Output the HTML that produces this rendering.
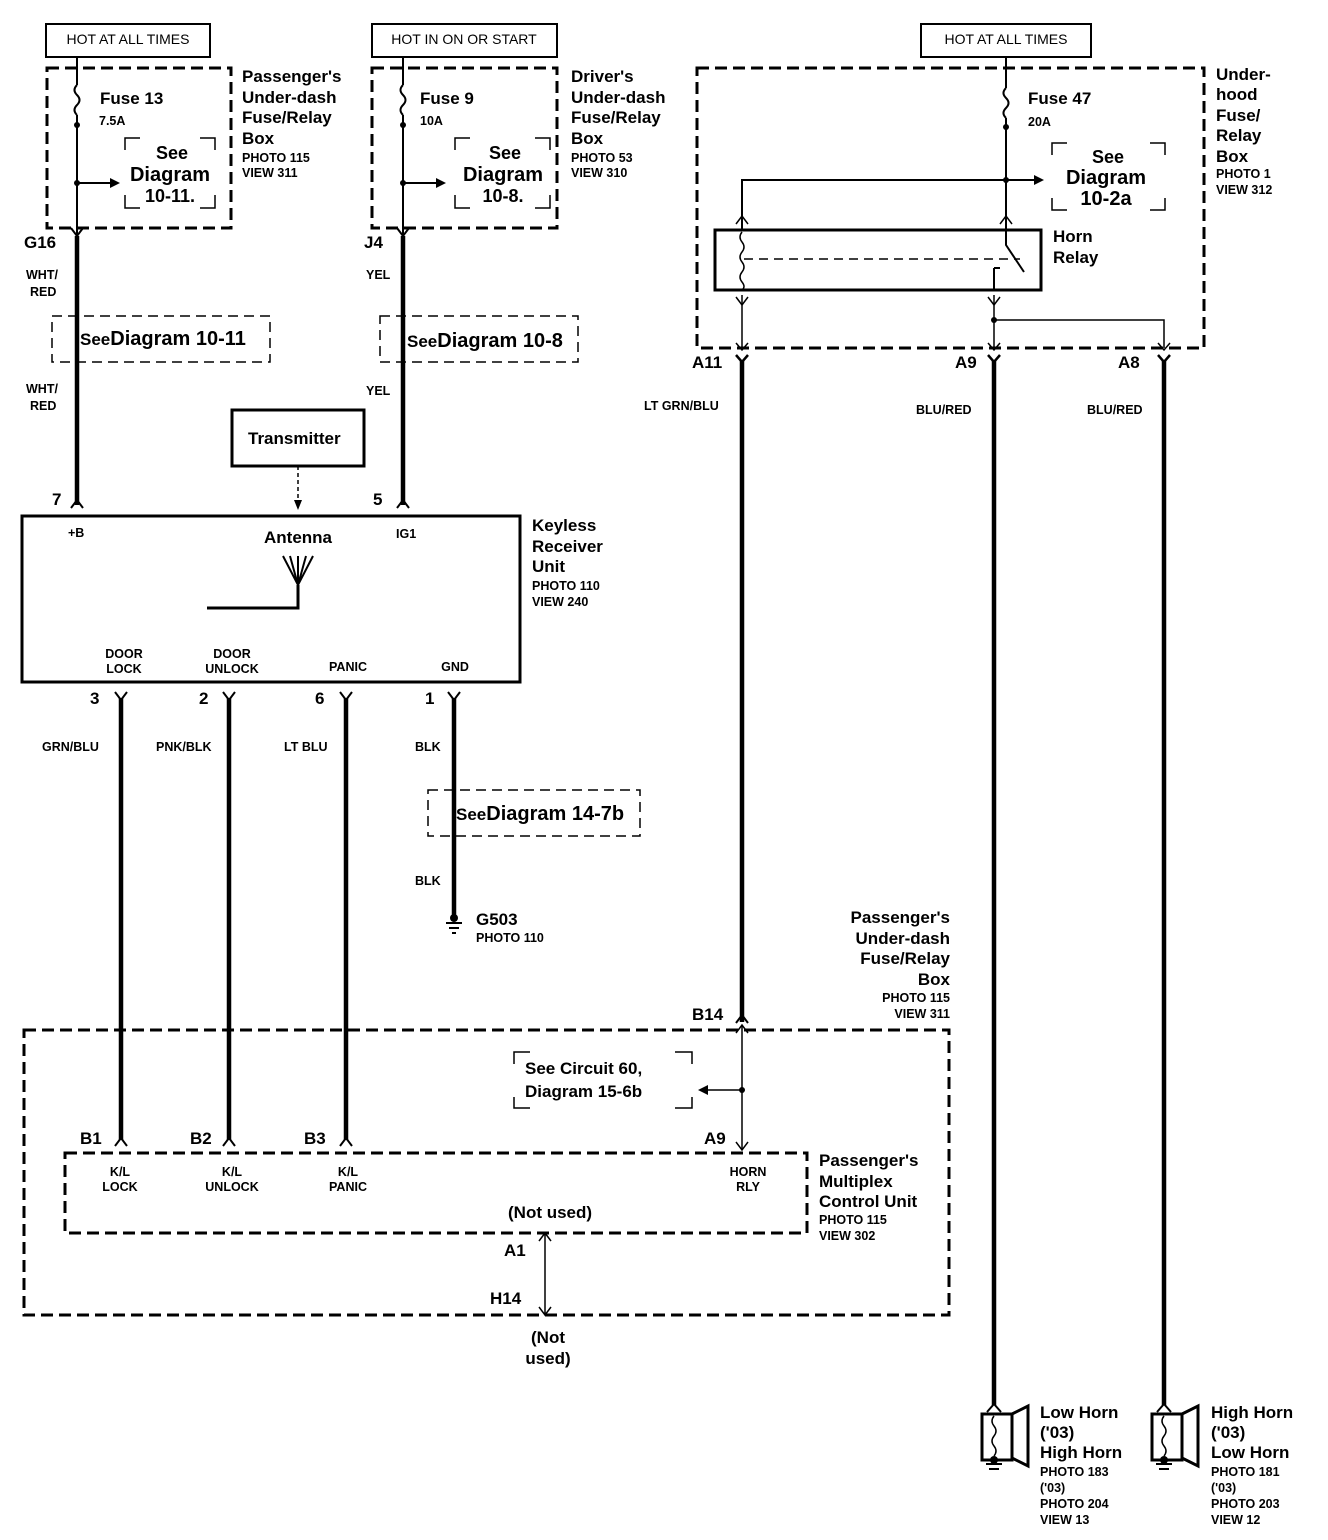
<!DOCTYPE html>
<html><head><meta charset="utf-8"><style>
html,body{margin:0;padding:0;background:#fff}
svg{display:block}
text{font-family:"Liberation Sans",Arial,sans-serif;fill:#000;font-weight:bold}
.b{font-size:17px}
.s{font-size:12.5px}
.m{font-size:14px}
.big{font-size:20px}
</style></head><body>
<svg width="1328" height="1540" viewBox="0 0 1328 1540" xmlns="http://www.w3.org/2000/svg">
<g fill="none" stroke="#000">
<rect x="46" y="24" width="164" height="33" stroke-width="2"/>
<rect x="372" y="24" width="185" height="33" stroke-width="2"/>
<rect x="921" y="24" width="170" height="33" stroke-width="2"/>
<rect x="47" y="68" width="184" height="160" stroke-width="3" stroke-dasharray="12,6"/>
<rect x="372" y="68" width="185" height="160" stroke-width="3" stroke-dasharray="12,6"/>
<rect x="697" y="68" width="507" height="280" stroke-width="3" stroke-dasharray="12,6"/>
<path d="M77 57V85 M77 115V240" stroke-width="2"/>
<path d="M77 85q-5 5 0 10q5 5 0 10q-5 5 0 10" stroke-width="2"/>
<path d="M77 183H110" stroke-width="2"/>
<path d="M403 57V85 M403 115V240" stroke-width="2"/>
<path d="M403 85q-5 5 0 10q5 5 0 10q-5 5 0 10" stroke-width="2"/>
<path d="M403 183H436" stroke-width="2"/>
<path d="M1006 57V88 M1006 118V230" stroke-width="2"/>
<path d="M1006 88q-5 5 0 10q5 5 0 10q-5 5 0 10" stroke-width="2"/>
<path d="M742 230V180H1034" stroke-width="2"/>
<path d="M125 150V138H140 M200 138H215V150 M125 195V208H140 M200 208H215V195" stroke-width="1.5"/>
<path d="M455 150V138H470 M535 138H550V150 M455 195V208H470 M535 208H550V195" stroke-width="1.5"/>
<path d="M1052 155V143H1067 M1150 143H1165V155 M1052 198V210H1067 M1150 210H1165V198" stroke-width="1.5"/>
<path d="M71 228L77 236L83 228" stroke-width="2"/>
<path d="M397 228L403 236L409 228" stroke-width="2"/>
<path d="M77 236V505 M403 236V505" stroke-width="4.5"/>
<path d="M71 508L77 500L83 508 M397 508L403 500L409 508" stroke-width="2"/>
<rect x="52" y="316" width="218" height="46" stroke-width="1.5" stroke-dasharray="10,6"/>
<rect x="380" y="316" width="198" height="46" stroke-width="1.5" stroke-dasharray="10,6"/>
<rect x="428" y="790" width="212" height="46" stroke-width="1.5" stroke-dasharray="10,6"/>
<rect x="232" y="410" width="132" height="56" stroke-width="3"/>
<path d="M298 466V505" stroke-width="1.5" stroke-dasharray="4,3"/>
<rect x="22" y="516" width="498" height="166" stroke-width="3"/>
<path d="M283 556L298 585L313 556 M298 556V585 M290 556L298 585L306 556" stroke-width="2"/>
<path d="M298 585V608H207" stroke-width="3"/>
<path d="M115 692L121 700L127 692 M223 692L229 700L235 692 M340 692L346 700L352 692 M448 692L454 700L460 692" stroke-width="2"/>
<path d="M121 698V1140 M229 698V1140 M346 698V1140" stroke-width="4.5"/>
<path d="M454 698V915" stroke-width="4.5"/>
<path d="M115 1146L121 1138L127 1146 M223 1146L229 1138L235 1146 M340 1146L346 1138L352 1146" stroke-width="2"/>
<path d="M446 923H462 M449 928H459 M452 933H456" stroke-width="2"/>
<rect x="24" y="1030" width="925" height="285" stroke-width="3" stroke-dasharray="12,6"/>
<rect x="65" y="1153" width="742" height="80" stroke-width="3" stroke-dasharray="12,6"/>
<path d="M742 1025V1150 M742 1090H708" stroke-width="1.5"/>
<path d="M736 1033L742 1025L748 1033 M736 1142L742 1150L748 1142" stroke-width="1.5"/>
<path d="M514 1064V1052H530 M675 1052H692V1064 M514 1097V1108H530 M675 1108H692V1097" stroke-width="1.5"/>
<path d="M545 1233V1315 M539 1241L545 1233L551 1241 M539 1307L545 1315L551 1307" stroke-width="1.5"/>
<rect x="715" y="230" width="326" height="60" stroke-width="3"/>
<path d="M742 232q-4 5 0 10q4 5 0 10q-4 5 0 10q4 5 0 10q-4 5 0 10q4 5 0 8" stroke-width="1.5"/>
<path d="M744 259H1020" stroke-width="1.5" stroke-dasharray="9,6"/>
<path d="M1006 230V245L1024 272 M994 268H1000 M994 268V290" stroke-width="2"/>
<path d="M736 224L742 216L748 224 M1000 224L1006 216L1012 224" stroke-width="1.5"/>
<path d="M742 295V348 M994 295V348 M994 320H1164V348" stroke-width="1.5"/>
<path d="M736 297L742 305L748 297 M988 297L994 305L1000 297" stroke-width="1.5"/>
<path d="M736 343L742 350L748 343 M988 343L994 350L1000 343 M1158 343L1164 350L1170 343" stroke-width="1.5"/>
<path d="M736 355L742 362L748 355 M988 355L994 362L1000 355 M1158 355L1164 362L1170 355" stroke-width="2.5"/>
<path d="M742 360V1022 M994 360V1405 M1164 360V1405" stroke-width="4.5"/>
<path d="M736 1023L742 1015L748 1023" stroke-width="2"/>
<path d="M987 1412L994 1404L1001 1412 M1157 1412L1164 1404L1171 1412" stroke-width="2"/>
<rect x="982" y="1414" width="30" height="46" stroke-width="3"/>
<path d="M1012 1414L1028 1406V1466L1012 1458" stroke-width="3"/>
<path d="M994 1416q-4 5 0 10q4 5 0 10q-4 5 0 10q4 5 0 10" stroke-width="1.5"/>
<path d="M986 1464H1002 M989 1469H999" stroke-width="2"/>
<rect x="1152" y="1414" width="30" height="46" stroke-width="3"/>
<path d="M1182 1414L1198 1406V1466L1182 1458" stroke-width="3"/>
<path d="M1164 1416q-4 5 0 10q4 5 0 10q-4 5 0 10q4 5 0 10" stroke-width="1.5"/>
<path d="M1156 1464H1172 M1159 1469H1169" stroke-width="2"/>
</g>
<g fill="#000">
<circle cx="77" cy="125" r="3"/><circle cx="77" cy="183" r="3"/>
<circle cx="403" cy="125" r="3"/><circle cx="403" cy="183" r="3"/>
<circle cx="1006" cy="127" r="3"/><circle cx="1006" cy="180" r="3"/>
<circle cx="742" cy="1090" r="3"/><circle cx="994" cy="320" r="3"/>
<circle cx="454" cy="918" r="4"/>
<path d="M110 178L120 183L110 188Z M436 178L446 183L436 188Z M1034 175L1044 180L1034 185Z M708 1085L698 1090L708 1095Z M294 500L298 510L302 500Z"/>
<circle cx="994" cy="1460" r="4"/><circle cx="1164" cy="1460" r="4"/>
</g>
<g class="m" font-weight="normal">
<text x="128" y="44" text-anchor="middle" style="font-weight:normal">HOT AT ALL TIMES</text>
<text x="464" y="44" text-anchor="middle" style="font-weight:normal">HOT IN ON OR START</text>
<text x="1006" y="44" text-anchor="middle" style="font-weight:normal">HOT AT ALL TIMES</text>
</g>
<g class="b">
<text x="100" y="104">Fuse 13</text>
<text x="420" y="104">Fuse 9</text>
<text x="1028" y="104">Fuse 47</text>
<text x="242" y="82">Passenger's</text><text x="242" y="103">Under-dash</text><text x="242" y="123">Fuse/Relay</text><text x="242" y="144">Box</text>
<text x="571" y="82">Driver's</text><text x="571" y="103">Under-dash</text><text x="571" y="123">Fuse/Relay</text><text x="571" y="144">Box</text>
<text x="1216" y="80">Under-</text><text x="1216" y="100">hood</text><text x="1216" y="121">Fuse/</text><text x="1216" y="141">Relay</text><text x="1216" y="162">Box</text>
<text x="1053" y="242">Horn</text><text x="1053" y="263">Relay</text>
<text x="24" y="248">G16</text><text x="364" y="248">J4</text>
<text x="52" y="505">7</text><text x="373" y="505">5</text>
<text x="248" y="444">Transmitter</text>
<text x="264" y="543">Antenna</text>
<text x="532" y="531">Keyless</text><text x="532" y="552">Receiver</text><text x="532" y="572">Unit</text>
<text x="90" y="704">3</text><text x="199" y="704">2</text><text x="315" y="704">6</text><text x="425" y="704">1</text>
<text x="476" y="925">G503</text>
<text x="950" y="923" text-anchor="end">Passenger's</text><text x="950" y="944" text-anchor="end">Under-dash</text><text x="950" y="964" text-anchor="end">Fuse/Relay</text><text x="950" y="985" text-anchor="end">Box</text>
<text x="692" y="1020">B14</text>
<text x="80" y="1144">B1</text><text x="190" y="1144">B2</text><text x="304" y="1144">B3</text><text x="704" y="1144">A9</text>
<text x="525" y="1074">See Circuit 60,</text><text x="525" y="1097">Diagram 15-6b</text>
<text x="508" y="1218">(Not used)</text>
<text x="504" y="1256">A1</text><text x="490" y="1304">H14</text>
<text x="548" y="1343" text-anchor="middle">(Not</text><text x="548" y="1364" text-anchor="middle">used)</text>
<text x="819" y="1166">Passenger's</text><text x="819" y="1187">Multiplex</text><text x="819" y="1207">Control Unit</text>
<text x="692" y="368">A11</text><text x="955" y="368">A9</text><text x="1118" y="368">A8</text>
<text x="1040" y="1418">Low Horn</text><text x="1040" y="1438">('03)</text><text x="1040" y="1458">High Horn</text>
<text x="1211" y="1418">High Horn</text><text x="1211" y="1438">('03)</text><text x="1211" y="1458">Low Horn</text>
</g>
<g class="big">
<text x="172" y="159" text-anchor="middle" font-size="18">See</text><text x="170" y="181" text-anchor="middle">Diagram</text><text x="170" y="202" text-anchor="middle" font-size="18">10-11.</text>
<text x="505" y="159" text-anchor="middle" font-size="18">See</text><text x="503" y="181" text-anchor="middle">Diagram</text><text x="503" y="202" text-anchor="middle" font-size="18">10-8.</text>
<text x="1108" y="163" text-anchor="middle" font-size="18">See</text><text x="1106" y="184" text-anchor="middle">Diagram</text><text x="1106" y="205" text-anchor="middle">10-2a</text>
<text x="80" y="345"><tspan font-size="17">See</tspan>Diagram 10-11</text>
<text x="407" y="347"><tspan font-size="17">See</tspan>Diagram 10-8</text>
<text x="456" y="820"><tspan font-size="17">See</tspan>Diagram 14-7b</text>
</g>
<g class="s">
<text x="99" y="125">7.5A</text><text x="420" y="125">10A</text><text x="1028" y="126">20A</text>
<text x="242" y="162">PHOTO 115</text><text x="242" y="177">VIEW 311</text>
<text x="571" y="162">PHOTO 53</text><text x="571" y="177">VIEW 310</text>
<text x="1216" y="178">PHOTO 1</text><text x="1216" y="194">VIEW 312</text>
<text x="26" y="279">WHT/</text><text x="30" y="296">RED</text>
<text x="26" y="393">WHT/</text><text x="30" y="410">RED</text>
<text x="366" y="279">YEL</text><text x="366" y="395">YEL</text>
<text x="68" y="537">+B</text><text x="396" y="538">IG1</text>
<text x="532" y="590">PHOTO 110</text><text x="532" y="606">VIEW 240</text>
<text x="124" y="658" text-anchor="middle">DOOR</text><text x="124" y="673" text-anchor="middle">LOCK</text>
<text x="232" y="658" text-anchor="middle">DOOR</text><text x="232" y="673" text-anchor="middle">UNLOCK</text>
<text x="348" y="671" text-anchor="middle">PANIC</text><text x="455" y="671" text-anchor="middle">GND</text>
<text x="42" y="751">GRN/BLU</text><text x="156" y="751">PNK/BLK</text><text x="284" y="751">LT BLU</text><text x="415" y="751">BLK</text>
<text x="415" y="885">BLK</text>
<text x="476" y="942">PHOTO 110</text>
<text x="950" y="1002" text-anchor="end">PHOTO 115</text><text x="950" y="1018" text-anchor="end">VIEW 311</text>
<text x="644" y="410">LT GRN/BLU</text><text x="916" y="414">BLU/RED</text><text x="1087" y="414">BLU/RED</text>
<text x="120" y="1176" text-anchor="middle">K/L</text><text x="120" y="1191" text-anchor="middle">LOCK</text>
<text x="232" y="1176" text-anchor="middle">K/L</text><text x="232" y="1191" text-anchor="middle">UNLOCK</text>
<text x="348" y="1176" text-anchor="middle">K/L</text><text x="348" y="1191" text-anchor="middle">PANIC</text>
<text x="748" y="1176" text-anchor="middle">HORN</text><text x="748" y="1191" text-anchor="middle">RLY</text>
<text x="819" y="1224">PHOTO 115</text><text x="819" y="1240">VIEW 302</text>
<text x="1040" y="1476">PHOTO 183</text><text x="1040" y="1492">('03)</text><text x="1040" y="1508">PHOTO 204</text><text x="1040" y="1524">VIEW 13</text>
<text x="1211" y="1476">PHOTO 181</text><text x="1211" y="1492">('03)</text><text x="1211" y="1508">PHOTO 203</text><text x="1211" y="1524">VIEW 12</text>
</g>
</svg>
</body></html>
